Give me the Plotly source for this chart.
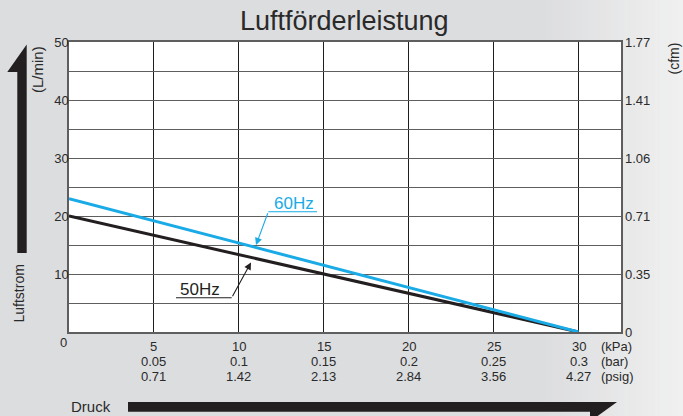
import numpy as np
import plotly.graph_objects as go

# ---------------- data ----------------
pressure_kpa = [0, 30]
flow_50hz = [20, 0]
flow_60hz = [23, 0]

kpa_ticks = [5, 10, 15, 20, 25, 30]
bar_labels = ["0.05", "0.1", "0.15", "0.2", "0.25", "0.3"]
psig_labels = ["0.71", "1.42", "2.13", "2.84", "3.56", "4.27"]

lmin_ticks = [0, 10, 20, 30, 40, 50]
cfm_labels = ["0", "0.35", "0.71", "1.06", "1.41", "1.77"]

# ---------------- layout geometry ----------------
W, H = 683, 416
L, R, T, B = 69, 62, 42, 84
PW, PH = W - L - R, H - T - B
XMAX = 32.5


def px(x):
    return (x - L) / PW


def py(y):
    return 1 - (y - T) / PH


def dx(xpix):
    return (xpix - L) / PW * XMAX


def dy(ypix):
    return (T + PH - ypix) / PH * 50


FONT = "Liberation Sans, Arial, sans-serif"
TXT = "#2a2a2a"
BLUE = "#1aabe6"
BLACK = "#231f20"

fig = go.Figure()
fig.add_trace(go.Scatter(x=pressure_kpa, y=flow_50hz, mode="lines",
                         line=dict(color=BLACK, width=3), showlegend=False,
                         hoverinfo="skip"))
fig.add_trace(go.Scatter(x=pressure_kpa, y=flow_60hz, mode="lines",
                         line=dict(color=BLUE, width=3), showlegend=False,
                         hoverinfo="skip"))
# invisible trace for right axis
fig.add_trace(go.Scatter(x=[0], y=[0], yaxis="y2", mode="markers",
                         marker=dict(opacity=0), showlegend=False,
                         hoverinfo="skip"))

shapes = []
# background gradient strips
x0g, x1g = 540, W
c0, c1 = np.array([220, 221, 223]), np.array([241, 241, 241])
n = 24
for i in range(n):
    a = x0g + (x1g - x0g) * i / n
    b = x0g + (x1g - x0g) * (i + 1) / n + 0.5
    c = (c0 + (c1 - c0) * (i + 0.5) / n).astype(int)
    shapes.append(dict(type="rect", xref="paper", yref="paper",
                       x0=px(a), x1=px(b), y0=py(H + 2), y1=py(-2),
                       fillcolor=f"rgb({c[0]},{c[1]},{c[2]})",
                       line=dict(width=0), layer="below"))
# white plot area
shapes.append(dict(type="rect", xref="paper", yref="paper", x0=0, x1=1,
                   y0=0, y1=1, fillcolor="white", line=dict(width=0),
                   layer="below"))


def path(points):
    s = "M " + " L ".join(f"{px(x)},{py(y)}" for x, y in points) + " Z"
    return s


# left vertical arrow (half arrow head)
left_arrow = [(17.3, 253), (17.3, 72), (7.3, 72), (26.7, 44.5), (26.7, 253)]
# bottom horizontal arrow
bottom_arrow = [(128, 402), (617, 402), (590, 421.5), (590, 411.7), (128, 411.7)]
for pts in (left_arrow, bottom_arrow):
    shapes.append(dict(type="path", xref="paper", yref="paper",
                       path=path(pts), fillcolor=BLACK,
                       line=dict(width=0)))

annotations = []
# title
annotations.append(dict(text="Luftförderleistung", x=px(344.5), y=py(21),
                        xref="paper", yref="paper", showarrow=False,
                        xanchor="center", yanchor="middle",
                        font=dict(family=FONT, size=27, color=TXT)))
# x tick labels (3 rows)
row_y = [346, 361, 376]
for k, b_, p_ in zip(kpa_ticks, bar_labels, psig_labels):
    for txt, yy in zip([str(k), b_, p_], row_y):
        annotations.append(dict(text=txt, x=k, y=py(yy), xref="x",
                                yref="paper", showarrow=False,
                                xanchor="center", yanchor="middle",
                                font=dict(family=FONT, size=13, color=TXT)))
annotations.append(dict(text="0", x=px(68.5), y=py(342), xref="paper",
                        yref="paper", showarrow=False, xanchor="right",
                        yanchor="middle",
                        font=dict(family=FONT, size=13, color=TXT)))
for txt, yy in zip(["(kPa)", "(bar)", "(psig)"], row_y):
    annotations.append(dict(text=txt, x=px(599), y=py(yy), xref="paper",
                            yref="paper", showarrow=False, xanchor="left",
                            yanchor="middle",
                            font=dict(family=FONT, size=13, color=TXT)))
# axis titles
annotations.append(dict(text="(L/min)", x=px(37), y=py(70), xref="paper",
                        yref="paper", showarrow=False, textangle=-90,
                        xanchor="center", yanchor="middle",
                        font=dict(family=FONT, size=15, color=TXT)))
annotations.append(dict(text="Luftstrom", x=px(18.5), y=py(294),
                        xref="paper", yref="paper", showarrow=False,
                        textangle=-90, xanchor="center", yanchor="middle",
                        font=dict(family=FONT, size=14, color=TXT)))
annotations.append(dict(text="(cfm)", x=px(673.5), y=py(59), xref="paper",
                        yref="paper", showarrow=False, textangle=-90,
                        xanchor="center", yanchor="middle",
                        font=dict(family=FONT, size=14, color=TXT)))
annotations.append(dict(text="Druck", x=px(69), y=py(406), xref="paper",
                        yref="paper", showarrow=False, xanchor="left",
                        yanchor="middle",
                        font=dict(family=FONT, size=15, color=TXT)))

# series labels with leader lines
labels = [
    ("60Hz", BLUE, flow_60hz, dx(256), -2.5, (268.3, 211.7), 317.0, (294.0, 203.5)),
    ("50Hz", BLACK, flow_50hz, dx(251), 5.0, (231.7, 297.7), 176.0, (200.0, 289.0)),
]
for name, col, series, tipx, off, tail, ul_end, tc in labels:
    tipy = float(np.interp(tipx, pressure_kpa, series)) - off / PH * 50
    annotations.append(dict(text="", x=tipx, y=tipy, xref="x", yref="y",
                            ax=dx(tail[0]), ay=dy(tail[1]), axref="x",
                            ayref="y", showarrow=True, arrowhead=2,
                            arrowsize=1.3, arrowwidth=1.1, arrowcolor=col,
                            standoff=0, startstandoff=0))
    shapes.append(dict(type="line", xref="x", yref="y", x0=dx(tail[0]),
                       x1=dx(ul_end), y0=dy(tail[1]), y1=dy(tail[1]),
                       line=dict(color=col, width=1.1)))
    annotations.append(dict(text=name, x=dx(tc[0]), y=dy(tc[1]), xref="x",
                            yref="y", showarrow=False, xanchor="center",
                            yanchor="middle",
                            font=dict(family=FONT, size=17, color=col)))

fig.update_layout(
    width=W, height=H,
    margin=dict(l=L, r=R, t=T, b=B, pad=0),
    paper_bgcolor="rgb(220,221,223)",
    plot_bgcolor="rgba(0,0,0,0)",
    showlegend=False,
    xaxis=dict(range=[0, XMAX], tickvals=[0] + kpa_ticks,
               showticklabels=False, ticks="", showgrid=True,
               gridcolor="#1e1e1e", gridwidth=1, zeroline=False,
               showline=True, mirror=True, linecolor="#5e5e5e",
               linewidth=1.5, fixedrange=True),
    yaxis=dict(range=[0, 50], tickvals=list(range(0, 51, 5)),
               ticktext=["" if v % 10 or v == 0 else str(v)
                         for v in range(0, 51, 5)],
               ticks="", showgrid=True, gridcolor="#5e5e5e",
               gridwidth=1.2, zeroline=False, showline=True, mirror=True,
               linecolor="#5e5e5e", linewidth=1.5,
               tickfont=dict(family=FONT, size=13, color=TXT),
               ticklabelstandoff=-4, fixedrange=True),
    yaxis2=dict(range=[0, 50], overlaying="y", side="right",
                tickvals=lmin_ticks, ticktext=cfm_labels, ticks="",
                showgrid=False, zeroline=False, showline=False,
                tickfont=dict(family=FONT, size=13, color=TXT),
                ticklabelstandoff=3, fixedrange=True),
    shapes=shapes,
    annotations=annotations,
)

fig.write_html("out.html", config=dict(displayModeBar=False),
               post_script="document.body.style.margin='0';"
                           "document.body.style.overflow='hidden';")
